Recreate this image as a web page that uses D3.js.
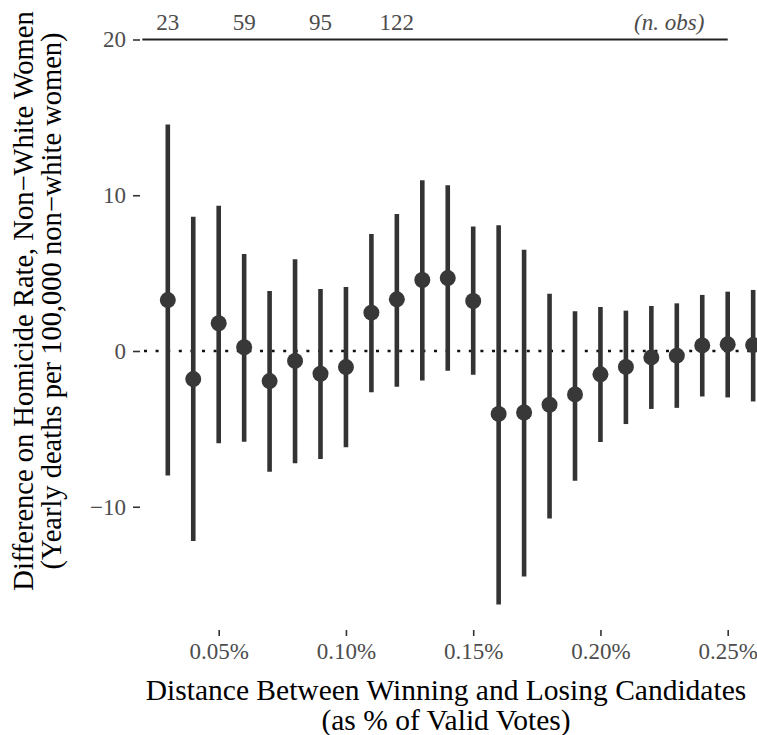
<!DOCTYPE html>
<html>
<head>
<meta charset="utf-8">
<script src="https://cdn.jsdelivr.net/npm/d3@7"></script>
<style>
  html, body { margin: 0; padding: 0; background: #fff; }
  svg { display: block; font-family: "Liberation Serif", "Times New Roman", serif; }
</style>
</head>
<body>
<svg id="chart" width="757" height="735"></svg>
<script>
// Vote-margin bandwidths (share of valid votes, in %)
const margins = [0.03, 0.04, 0.05, 0.06, 0.07, 0.08, 0.09, 0.10, 0.11, 0.12, 0.13, 0.14,
                 0.15, 0.16, 0.17, 0.18, 0.19, 0.20, 0.21, 0.22, 0.23, 0.24, 0.25, 0.26];
// Point estimates of the difference in homicide rate
const estimates = [3.27, -1.80, 1.78, 0.24, -1.93, -0.64, -1.46, -1.03, 2.46, 3.32, 4.56, 4.68,
                   3.21, -4.04, -3.95, -3.45, -2.79, -1.50, -1.02, -0.41, -0.30, 0.36, 0.43, 0.38];
// Confidence interval bounds
const lower = [-8.0, -12.2, -5.93, -5.82, -7.75, -7.21, -6.93, -6.18, -2.65, -2.29, -1.90, -1.27,
               -1.53, -16.28, -14.48, -10.76, -8.33, -5.84, -4.69, -3.72, -3.65, -2.92, -2.98, -3.24];
const upper = [14.55, 8.62, 9.33, 6.23, 3.85, 5.89, 3.98, 4.11, 7.51, 8.80, 10.96, 10.64,
               7.99, 8.08, 6.50, 3.68, 2.56, 2.82, 2.59, 2.89, 3.06, 3.60, 3.81, 3.92];
// Number of observations shown along the top
const obsMargins = [0.03, 0.06, 0.09, 0.12];
const obsCounts = ["23", "59", "95", "122"];
// Axis ticks
const xTicks = [0.05, 0.10, 0.15, 0.20, 0.25];
const xTickLabels = ["0.05%", "0.10%", "0.15%", "0.20%", "0.25%"];
const yTicks = [-10, 0, 10, 20];

const data = margins.map((m, i) => ({ m, est: estimates[i], lo: lower[i], hi: upper[i] }));

const svg = d3.select("#chart");
const panelLeft = 140, panelRight = 757, panelBottom = 630;

const x = d3.scaleLinear().domain([0.05, 0.25]).range([218.7, 727.7]);
const y = d3.scaleLinear().domain([-10, 20]).range([506.75, 39.5]);

const grey30 = "#4d4d4d";

// y axis
const yAxis = svg.append("g")
  .attr("transform", `translate(${panelLeft},0)`)
  .call(d3.axisLeft(y).tickValues(yTicks).tickSize(7).tickPadding(7)
        .tickFormat(d => d < 0 ? "\u2212" + Math.abs(d) : String(d)));
yAxis.select(".domain").remove();
yAxis.selectAll(".tick line").attr("stroke", "#333").attr("stroke-width", 1.6);
yAxis.selectAll(".tick text").attr("fill", grey30).attr("font-size", 23)
  .attr("font-family", "Liberation Serif");

// x axis
const xAxis = svg.append("g")
  .attr("transform", `translate(0,${panelBottom})`)
  .call(d3.axisBottom(x).tickValues(xTicks).tickSize(6).tickPadding(7)
        .tickFormat((d, i) => xTickLabels[i]));
xAxis.select(".domain").remove();
xAxis.selectAll(".tick line").attr("stroke", "#333").attr("stroke-width", 1.6);
xAxis.selectAll(".tick text").attr("fill", grey30).attr("font-size", 23)
  .attr("font-family", "Liberation Serif");

// zero reference line
svg.append("line")
  .attr("x1", panelLeft + 4).attr("x2", panelRight)
  .attr("y1", y(0)).attr("y2", y(0))
  .attr("stroke", "#111").attr("stroke-width", 2.6)
  .attr("stroke-dasharray", "3 8.6");

// rule carrying the observation counts
svg.append("line")
  .attr("x1", x(0.02)).attr("x2", x(0.25))
  .attr("y1", y(20)).attr("y2", y(20))
  .attr("stroke", "#222").attr("stroke-width", 2);

svg.append("g").selectAll("text")
  .data(obsMargins)
  .join("text")
  .attr("x", d => x(d))
  .attr("y", y(20.62))
  .attr("text-anchor", "middle")
  .attr("fill", grey30)
  .attr("font-size", 23)
  .text((d, i) => obsCounts[i]);

svg.append("text")
  .attr("x", x(0.227))
  .attr("y", y(20.62))
  .attr("text-anchor", "middle")
  .attr("fill", grey30)
  .attr("font-size", 23)
  .attr("font-style", "italic")
  .text("(n. obs)");

// confidence intervals
svg.append("g").selectAll("line")
  .data(data)
  .join("line")
  .attr("x1", d => x(d.m)).attr("x2", d => x(d.m))
  .attr("y1", d => y(d.lo)).attr("y2", d => y(d.hi))
  .attr("stroke", "#333").attr("stroke-width", 4.6);

// point estimates
svg.append("g").selectAll("circle")
  .data(data)
  .join("circle")
  .attr("cx", d => x(d.m)).attr("cy", d => y(d.est))
  .attr("r", 8)
  .attr("fill", "#383838");

// axis titles
const xTitle = svg.append("text")
  .attr("text-anchor", "middle")
  .attr("fill", "#000")
  .attr("font-size", 29.5);
xTitle.append("tspan").attr("x", 446).attr("y", 700)
  .text("Distance Between Winning and Losing Candidates");
xTitle.append("tspan").attr("x", 446).attr("y", 730)
  .text("(as % of Valid Votes)");

const yTitle = svg.append("text")
  .attr("text-anchor", "middle")
  .attr("fill", "#000")
  .attr("font-size", 28.5)
  .attr("transform", "translate(0,301) rotate(-90)");
yTitle.append("tspan").attr("x", 0).attr("y", 33)
  .text("Difference on Homicide Rate, Non\u2212White Women");
yTitle.append("tspan").attr("x", 0).attr("y", 61)
  .text("(Yearly deaths per 100,000 non\u2212white women)");
</script>
</body>
</html>
